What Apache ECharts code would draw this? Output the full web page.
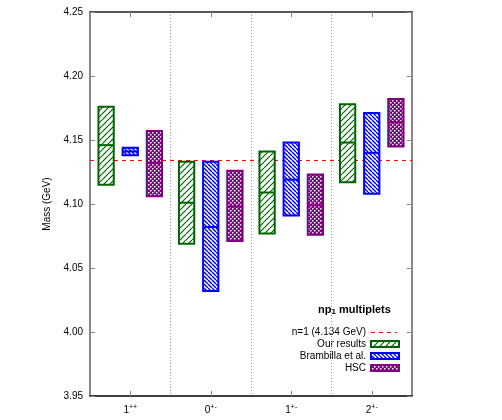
<!DOCTYPE html>
<html>
<head>
<meta charset="utf-8">
<script src="https://cdn.jsdelivr.net/npm/echarts@6/dist/echarts.min.js"></script>
<style>html,body{margin:0;padding:0;background:#fff;}#c{width:502px;height:420px;}</style>
</head>
<body>
<div id="c"></div>
<script>
// ---- data ----
const categories = ['1++', '0+-', '1+-', '2+-'];
const catBase = ['1', '0', '1', '2'];
const catSup = ['++', '+-', '+-', '+-'];
const threshold = 4.134;
const ourLow  = [4.115, 4.069, 4.077, 4.117];
const ourMid  = [4.146, 4.101, 4.109, 4.148];
const ourHigh = [4.176, 4.133, 4.141, 4.178];
const bramLow  = [4.138, 4.032, 4.091, 4.108];
const bramMid  = [4.141, 4.082, 4.119, 4.140];
const bramHigh = [4.144, 4.133, 4.148, 4.171];
const hscLow  = [4.106, 4.071, 4.076, 4.145];
const hscMid  = [4.132, 4.098, 4.099, 4.164];
const hscHigh = [4.157, 4.126, 4.123, 4.182];
const yTicks = [3.95, 4.00, 4.05, 4.10, 4.15, 4.20, 4.25];

// ---- styles ----
const FONT = 'Liberation Sans, Arial, sans-serif';
const GREEN = '#006400', BLUE = '#0000ff', PURPLE = '#800080';
const BOX_W = 0.19, OFFSETS = [-0.3, 0, 0.3];

function makePattern(kind) {
  const c = document.createElement('canvas');
  let s;
  if (kind === 'green') {
    s = 6; c.width = s; c.height = s;
    const g = c.getContext('2d');
    g.fillStyle = '#fff'; g.fillRect(0, 0, s, s);
    g.strokeStyle = GREEN; g.lineWidth = 1.2;
    for (const k of [-s, 0, s]) { g.beginPath(); g.moveTo(k, s); g.lineTo(k + s, 0); g.stroke(); }
  } else if (kind === 'blue') {
    s = 4; c.width = s; c.height = s;
    const g = c.getContext('2d');
    g.fillStyle = '#fff'; g.fillRect(0, 0, s, s);
    g.strokeStyle = BLUE; g.lineWidth = 1.4;
    for (const k of [-s, 0, s]) { g.beginPath(); g.moveTo(k, 0); g.lineTo(k + s, s); g.stroke(); }
  } else {
    s = 4; c.width = s; c.height = s;
    const g = c.getContext('2d');
    g.fillStyle = PURPLE; g.fillRect(0, 0, s, s);
    g.fillStyle = '#fff';
    g.fillRect(0, 0, 1.5, 1.5); g.fillRect(2, 2, 1.5, 1.5);
  }
  return { type: 'pattern', image: c, repeat: 'repeat' };
}
const patterns = { green: makePattern('green'), blue: makePattern('blue'), purple: makePattern('purple') };

function buildData(lo, mid, hi, gi) {
  return categories.map((c, i) => [i + 0.5 + OFFSETS[gi], lo[i], mid[i], hi[i]]);
}

function boxSeries(name, data, color, pat) {
  return {
    name: name, type: 'custom', xAxisIndex: 0, yAxisIndex: 0, z: 5,
    data: data,
    renderItem: function (params, api) {
      const x = api.value(0);
      const hi = api.coord([x, api.value(3)]);
      const lo = api.coord([x, api.value(1)]);
      const md = api.coord([x, api.value(2)]);
      const w = api.size([BOX_W, 0])[0];
      return {
        type: 'group',
        children: [
          { type: 'rect', shape: { x: hi[0] - w / 2, y: hi[1], width: w, height: lo[1] - hi[1] },
            style: { fill: pat, stroke: color, lineWidth: 2 } },
          { type: 'line', shape: { x1: md[0] - w / 2, y1: md[1], x2: md[0] + w / 2, y2: md[1] },
            style: { stroke: color, lineWidth: 2 } }
        ]
      };
    }
  };
}

const chart = echarts.init(document.getElementById('c'), null, { renderer: 'canvas' });

const legendX = 366, sampleX = 371, sampleW = 28;
const legendRows = [
  { label: 'Our results', y: 344, color: GREEN, pat: patterns.green },
  { label: 'Brambilla et al.', y: 356, color: BLUE, pat: patterns.blue },
  { label: 'HSC', y: 368, color: PURPLE, pat: patterns.purple }
];
const graphics = [
  { type: 'text', left: 318, top: 304,
    style: { text: '{a|np}{s|1}{a| multiplets}', font: 'bold 11px ' + FONT, fill: '#000',
      rich: { a: { fontSize: 11, fontWeight: 'bold', fontFamily: FONT },
              s: { fontSize: 8, fontWeight: 'bold', fontFamily: FONT, padding: [5, 0, 0, 0] } } } },
  { type: 'text', x: legendX, y: 332.5,
    style: { text: 'n=1 (4.134 GeV)', font: '10px ' + FONT, fill: '#000', align: 'right', verticalAlign: 'middle' } },
  { type: 'line', shape: { x1: sampleX, y1: 332.5, x2: sampleX + 26, y2: 332.5 },
    style: { stroke: '#ff0000', lineWidth: 1, lineDash: [4, 4] } }
];
legendRows.forEach(r => {
  graphics.push({ type: 'text', x: legendX, y: r.y,
    style: { text: r.label, font: '10px ' + FONT, fill: '#000', align: 'right', verticalAlign: 'middle' } });
  graphics.push({ type: 'rect', shape: { x: sampleX, y: r.y - 3, width: sampleW, height: 6 },
    style: { fill: r.pat, stroke: r.color, lineWidth: 2 } });
});

const option = {
  backgroundColor: '#fff',
  animation: false,
  textStyle: { fontFamily: FONT },
  grid: { left: 90, right: 90, top: 12, bottom: 24 },
  xAxis: [
    { type: 'value', min: 0, max: 4, interval: 1, position: 'bottom',
      axisLine: { show: false }, axisTick: { show: false }, axisLabel: { show: false },
      splitLine: { show: true, lineStyle: { color: '#999', type: [1, 2], width: 1 } } },
    { type: 'category', data: categories, position: 'bottom', boundaryGap: true,
      axisLine: { show: true, lineStyle: { color: '#000', width: 1.5 } },
      axisTick: { show: true, inside: true, alignWithLabel: true, length: 5, lineStyle: { color: '#888' } },
      splitLine: { show: false },
      axisLabel: { margin: 8, color: '#000',
        formatter: function (v, i) { return '{b|' + catBase[i] + '}{s|' + catSup[i] + '}'; },
        rich: { b: { fontSize: 10, fontFamily: FONT, color: '#000' },
                s: { fontSize: 7, fontFamily: FONT, color: '#000', padding: [0, 0, 6, 0] } } } },
    { type: 'category', data: categories, position: 'top', boundaryGap: true,
      axisLine: { show: true, lineStyle: { color: '#222', width: 1.5 } },
      axisTick: { show: true, inside: true, alignWithLabel: true, length: 5, lineStyle: { color: '#888' } },
      axisLabel: { show: false }, splitLine: { show: false } }
  ],
  yAxis: [
    { type: 'value', min: 3.95, max: 4.25, interval: 0.05, position: 'left',
      name: 'Mass (GeV)', nameLocation: 'middle', nameGap: 31, nameRotate: 90,
      nameTextStyle: { fontSize: 10, fontFamily: FONT, color: '#000' },
      axisLine: { show: true, lineStyle: { color: '#888', width: 2 } },
      axisTick: { show: true, inside: true, length: 5, lineStyle: { color: '#888' } },
      axisLabel: { fontSize: 10, color: '#000', margin: 7, formatter: v => v.toFixed(2) },
      splitLine: { show: false } },
    { type: 'value', min: 3.95, max: 4.25, interval: 0.05, position: 'right',
      axisLine: { show: true, lineStyle: { color: '#888', width: 2 } },
      axisTick: { show: true, inside: true, length: 5, lineStyle: { color: '#888' } },
      axisLabel: { show: false }, splitLine: { show: false } }
  ],
  series: [
    { name: 'n=1 (4.134 GeV)', type: 'line', xAxisIndex: 0, yAxisIndex: 0, z: 2,
      data: [[0, threshold], [4, threshold]], symbol: 'none', silent: true,
      lineStyle: { color: '#ff0000', width: 1, type: [4, 4] } },
    boxSeries('Our results', buildData(ourLow, ourMid, ourHigh, 0), GREEN, patterns.green),
    boxSeries('Brambilla et al.', buildData(bramLow, bramMid, bramHigh, 1), BLUE, patterns.blue),
    boxSeries('HSC', buildData(hscLow, hscMid, hscHigh, 2), PURPLE, patterns.purple)
  ],
  graphic: graphics
};
chart.setOption(option);
</script>
</body>
</html>
